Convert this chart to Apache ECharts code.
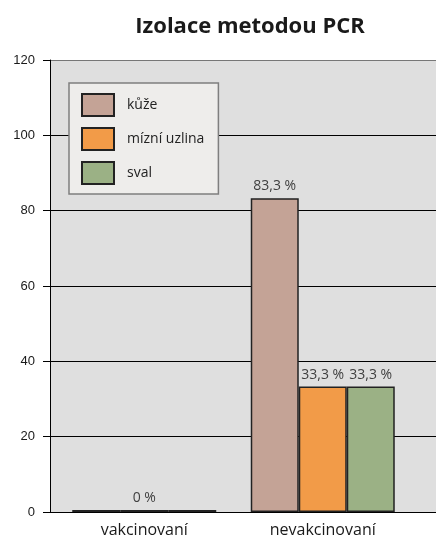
<!DOCTYPE html>
<html>
<head>
<meta charset="utf-8">
<script src="https://cdn.jsdelivr.net/npm/echarts@6/dist/echarts.min.js"></script>
<style>
html,body{margin:0;padding:0;background:#fff;}
#chart{width:436px;height:540px;}
</style>
</head>
<body>
<div id="chart"></div>
<script>
const categories = ['vakcinovaní', 'nevakcinovaní'];
const seriesNames = ['kůže', 'mízní uzlina', 'sval'];
const kuze = [0, 83.3];
const mizniUzlina = [0, 33.3];
const sval = [0, 33.3];
const yTicks = [0, 20, 40, 60, 80, 100, 120];

const colors = ['#c4a396', '#f29b48', '#9bb185'];
const values = [kuze, mizniUzlina, sval];
const font = '"Open Sans", sans-serif';

function fmt(p) {
  const v = p.value;
  if (v === 0) return p.seriesIndex === 1 ? '0 %' : '';
  return v.toFixed(1).replace('.', ',') + ' %';
}

const chart = echarts.init(document.getElementById('chart'), null, {renderer: 'canvas'});
chart.setOption({
  animation: false,
  backgroundColor: '#ffffff',
  title: {
    text: 'Izolace metodou PCR',
    left: 245, top: 11, textAlign: 'center',
    textStyle: {fontFamily: font, fontWeight: 'bold', fontSize: 22, color: '#1a1a1a'}
  },
  legend: {
    orient: 'vertical',
    left: 69, top: 83,
    padding: [10, 14, 9, 12],
    icon: 'rect',
    itemWidth: 32, itemHeight: 22, itemGap: 10,
    backgroundColor: '#eeedeb',
    borderColor: '#7f7f7f', borderWidth: 1.5,
    textStyle: {fontFamily: font, fontSize: 14, color: '#222', padding: [0, 0, 0, 8]},
    data: seriesNames
  },
  grid: [
    {left: 50, right: 0, top: 60, bottom: 28, show: true, backgroundColor: '#dfdfdf', borderWidth: 0},
    {left: 55, right: 24, top: 60, bottom: 28}
  ],
  xAxis: [
    {gridIndex: 0, type: 'value', min: 0, max: 1,
     axisLine: {show: true, lineStyle: {color: '#000', width: 1}},
     axisTick: {show: false}, axisLabel: {show: false}, splitLine: {show: false}},
    {gridIndex: 1, type: 'category', data: categories,
     axisLine: {show: false}, axisTick: {show: false},
     axisLabel: {fontFamily: font, fontSize: 16, color: '#1a1a1a', margin: 10}}
  ],
  yAxis: [
    {gridIndex: 0, type: 'value', min: yTicks[0], max: yTicks[yTicks.length - 1], interval: 20,
     axisLine: {show: true, lineStyle: {color: '#000', width: 1}},
     axisTick: {show: true, length: 7, inside: false, lineStyle: {color: '#000'}},
     axisLabel: {fontFamily: '"Liberation Sans", Arial, sans-serif', fontSize: 13, color: '#1a1a1a', margin: 15},
     splitLine: {show: true, lineStyle: {color: ['#000', '#000', '#000', '#000', '#000', '#000', '#777'], width: 1}}},
    {gridIndex: 1, type: 'value', min: yTicks[0], max: yTicks[yTicks.length - 1], interval: 20, show: false}
  ],
  series: seriesNames.map((name, i) => ({
    name: name,
    type: 'bar',
    xAxisIndex: 1, yAxisIndex: 1,
    data: values[i],
    barWidth: 48,
    barGap: '0%',
    barMinHeight: 2,
    itemStyle: {color: colors[i], borderColor: '#222', borderWidth: 1.5},
    label: {show: true, position: 'top', distance: 5, formatter: fmt,
            fontFamily: font, fontSize: 14, color: '#404040'}
  }))
});
</script>
</body>
</html>
